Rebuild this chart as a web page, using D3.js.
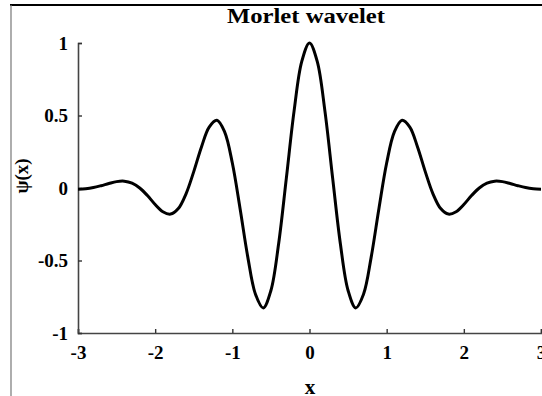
<!DOCTYPE html>
<html><head><meta charset="utf-8">
<script src="https://cdn.jsdelivr.net/npm/d3@7"></script>
<style>body{margin:0;background:#fff}svg{display:block}</style>
</head><body>
<script>
const xValues = [0,0.1,0.2,0.3,0.4,0.5,0.6,0.7,0.8,0.9,1.0,1.1,1.2,1.3,1.4,1.5,1.6,1.7,1.8,1.9,2.0,2.1,2.2,2.3,2.4,2.5,2.6,2.7,2.8,2.9,3.0];
const psiValues = [1,0.873,0.530,0.068,-0.384,-0.707,-0.827,-0.733,-0.475,-0.141,0.172,0.387,0.467,0.420,0.283,0.113,-0.040,-0.142,-0.180,-0.164,-0.114,-0.052,0.000,0.034,0.047,0.044,0.031,0.016,0.003,-0.005,-0.008];
const xTicks = [-3,-2,-1,0,1,2,3];
const xTickLabels = ["-3","-2","-1","0","1","2","3"];
const yTicks = [-1,-0.5,0,0.5,1];
const yTickLabels = ["-1","-0.5","0","0.5","1"];
const titleText = "Morlet wavelet";

// symmetric curve: psi(-x) = psi(x)
const pts = [];
for (let i = xValues.length - 1; i > 0; i--) pts.push([-xValues[i], psiValues[i]]);
for (let i = 0; i < xValues.length; i++) pts.push([xValues[i], psiValues[i]]);

const W = 542, H = 396;
const svg = d3.select("body").append("svg").attr("width", W).attr("height", H);

// frame (top and left border of the cropped figure)
svg.append("line").attr("x1",10).attr("x2",W).attr("y1",5).attr("y2",5).attr("stroke","#000").attr("stroke-width",2);
svg.append("line").attr("x1",11).attr("x2",11).attr("y1",5).attr("y2",H).attr("stroke","#777").attr("stroke-width",1.2);

const x = d3.scaleLinear().domain([-3,3]).range([78,541]);
const y = d3.scaleLinear().domain([-1,1]).range([333,43]);
const font = "'Liberation Serif','Times New Roman',serif";

const xAxis = svg.append("g").attr("transform","translate(0,333)")
  .call(d3.axisBottom(x).tickValues(xTicks).tickSize(-4).tickPadding(10).tickFormat((d,i)=>xTickLabels[i]));
const yAxis = svg.append("g").attr("transform","translate(78,0)")
  .call(d3.axisLeft(y).tickValues(yTicks).tickSize(-4).tickPadding(10).tickFormat((d,i)=>yTickLabels[i]));
[xAxis,yAxis].forEach(g=>{
  g.select(".domain").attr("stroke","#444").attr("stroke-width",1.6);
  g.selectAll(".tick line").attr("stroke","#333").attr("stroke-width",1.4);
  g.selectAll(".tick text").attr("fill","#000").style("font-family",font).style("font-size","19px").style("font-weight","bold");
});
xAxis.selectAll(".tick text").attr("dy","0.85em");

svg.append("path").datum(pts)
  .attr("fill","none").attr("stroke","#000").attr("stroke-width",3).attr("stroke-linejoin","round")
  .attr("d", d3.line().x(d=>x(d[0])).y(d=>y(d[1])).curve(d3.curveCatmullRom.alpha(0.5)));

svg.append("text").attr("x",306).attr("y",23).attr("text-anchor","middle")
  .attr("textLength",158).attr("lengthAdjust","spacingAndGlyphs")
  .style("font-family",font).style("font-size","22px").style("font-weight","bold").text(titleText);
svg.append("text").attr("x",310).attr("y",394).attr("text-anchor","middle")
  .style("font-family",font).style("font-size","21px").style("font-weight","bold").text("x");
svg.append("text").attr("transform","translate(28,176) rotate(-90)").attr("text-anchor","middle")
  .style("font-family",font).style("font-size","19px").style("font-weight","bold").text("ψ(x)");
</script>
</body></html>
